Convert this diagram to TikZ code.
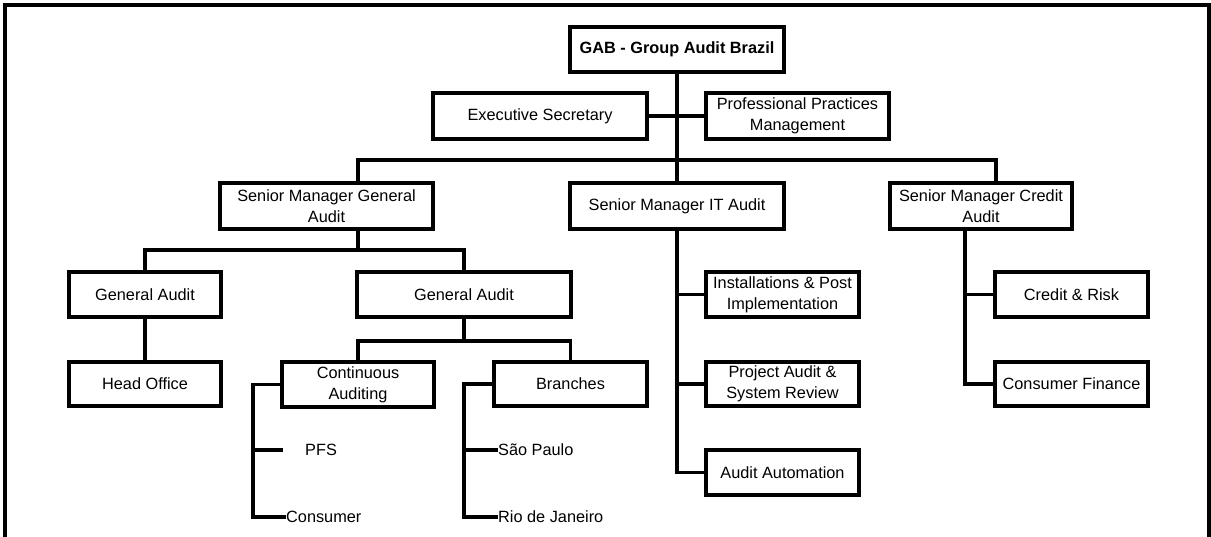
\documentclass[tikz,border=0pt]{standalone}
\usepackage{fontspec}
\setmainfont{Liberation Sans}
\begin{document}
\begin{tikzpicture}[x=1pt,y=-1pt,
  box/.style={draw, line width=3.1pt, inner sep=0pt, align=center, font=\fontsize{16.3}{21}\selectfont},
  lab/.style={inner sep=0pt, anchor=west, font=\fontsize{16.3}{21}\selectfont},
  conn/.style={line width=3.3pt},
  frame/.style={line width=3.1pt}]
\useasboundingbox (0,0) rectangle (1211,536);
\clip (0,0) rectangle (1211,536);
% frame
\draw[frame] (5,560) -- (5,5) -- (1209,5) -- (1209,560);
% boxes
\node[box, minimum width=214pt, minimum height=45pt, font=\fontsize{16.3}{21}\selectfont\bfseries] (gab) at (677,49.5) {GAB - Group Audit Brazil};
\node[box, minimum width=214pt, minimum height=46pt] (exec) at (540,116) {Executive Secretary};
\node[box, minimum width=183pt, minimum height=46pt] (ppm) at (797.5,116) {Professional Practices\\Management};
\node[box, minimum width=213pt, minimum height=46pt] (smg) at (326.5,206) {Senior Manager General\\Audit};
\node[box, minimum width=214pt, minimum height=46pt] (smit) at (677,206) {Senior Manager IT Audit};
\node[box, minimum width=182pt, minimum height=46pt] (smc) at (981,206) {Senior Manager Credit\\Audit};
\node[box, minimum width=152pt, minimum height=45pt] (ga1) at (145,294.5) {General Audit};
\node[box, minimum width=214pt, minimum height=45pt] (ga2) at (464,294.5) {General Audit};
\node[box, minimum width=152pt, minimum height=44pt] (ho) at (145,384) {Head Office};
\node[box, minimum width=152pt, minimum height=45pt] (ca) at (358,384.5) {Continuous\\Auditing};
\node[box, minimum width=153pt, minimum height=44pt] (br) at (570.5,384) {Branches};
\node[box, minimum width=153pt, minimum height=45pt] (inst) at (782.5,294.5) {Installations \& Post\\Implementation};
\node[box, minimum width=153pt, minimum height=44pt] (pasr) at (782.5,384) {Project Audit \&\\System Review};
\node[box, minimum width=153pt, minimum height=45pt] (aa) at (782.5,472.5) {Audit Automation};
\node[box, minimum width=153pt, minimum height=45pt] (cr) at (1071.5,294.5) {Credit \& Risk};
\node[box, minimum width=153pt, minimum height=44pt] (cf) at (1071.5,384) {Consumer Finance};
% plain labels
\node[lab] (pfs) at (305,450) {PFS};
\node[lab] (cons) at (286,517) {Consumer};
\node[lab] (sp) at (498,450) {São Paulo};
\node[lab] (rio) at (498,517) {Rio de Janeiro};
% helper coordinates
\coordinate (barL) at (358,160);
\coordinate (barR) at (996,160);
\coordinate (b2L) at (145,250);
\coordinate (b2R) at (464,250);
\coordinate (b3) at (464,341);
\coordinate (caX) at (253,0);
\coordinate (brX) at (464,0);
\coordinate (cX) at (965,0);
\coordinate (pfsT) at (283,450);
% connectors
\draw[conn] (gab.south) -- (gab.south |- barL);
\draw[conn] (exec.east) -- (ppm.west);
\draw[conn] (smg.north -| barL) |- (barR) -- (smc.north -| barR);
\draw[conn] (smit.north) -- (smit.north |- barL);
\draw[conn] (smg.south -| barL) -- (barL |- b2L);
\draw[conn] (ga1.north) |- (b2R) -- (ga2.north);
\draw[conn] (ga1.south) -- (ho.north);
\draw[conn] (ga2.south) -- (b3);
\draw[conn] (ca.north) |- (br.north |- b3) -- (br.north);
\draw[conn] (ca.west) -| (caX |- cons.west) -- (cons.west);
\draw[conn] (caX |- pfsT) -- (pfsT);
\draw[conn] (br.west) -| (brX |- rio.west) -- (rio.west);
\draw[conn] (brX |- sp.west) -- (sp.west);
\draw[conn] (smit.south) |- (aa.west);
\draw[conn] (smit.south |- inst.west) -- (inst.west);
\draw[conn] (smit.south |- pasr.west) -- (pasr.west);
\draw[conn] (cX |- smc.south) |- (cf.west);
\draw[conn] (cX |- cr.west) -- (cr.west);
\end{tikzpicture}
\end{document}
